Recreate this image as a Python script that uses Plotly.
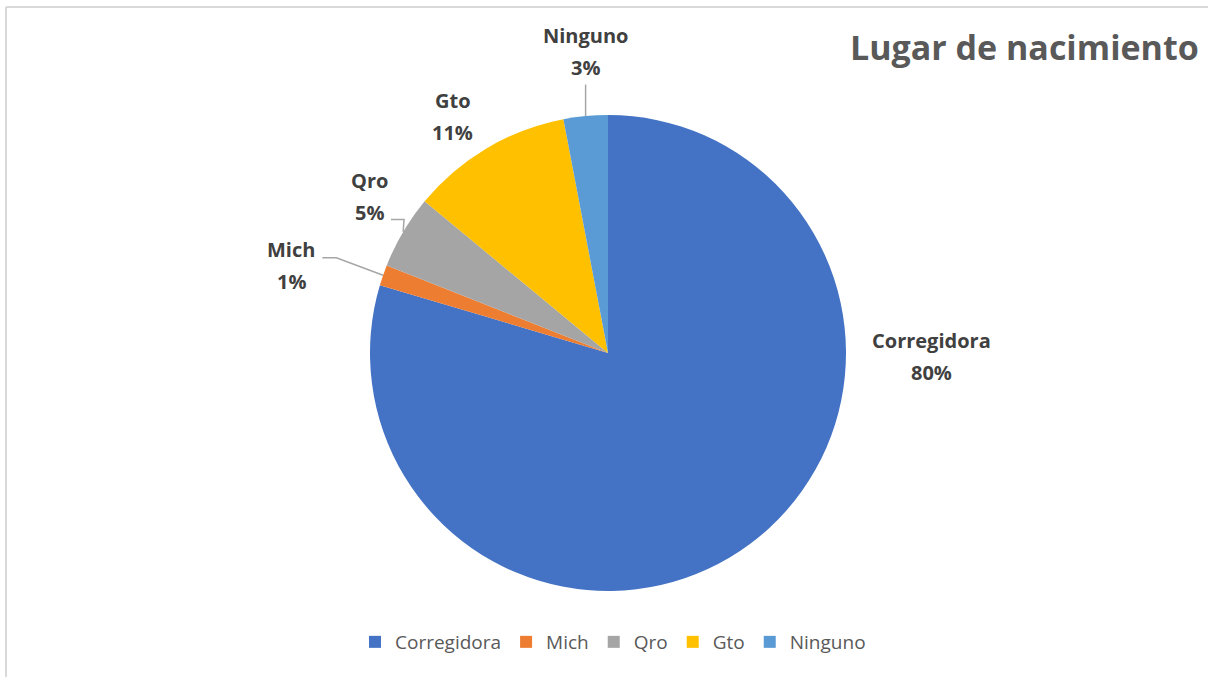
import math
import plotly.graph_objects as go

# ---- data ----
categories = ["Corregidora", "Mich", "Qro", "Gto", "Ninguno"]
values = [79.6, 1.4, 5.0, 11.0, 3.0]
colors = ["#4472C4", "#ED7D31", "#A5A5A5", "#FFC000", "#5B9BD5"]
title_text = "Lugar de nacimiento"

W, H = 1208, 677
CX, CY, R = 608, 353, 238  # pie centre / radius in pixels (layout)

def px(x):
    return x / W

def py(y):
    return 1 - y / H

fig = go.Figure()
fig.add_trace(go.Pie(
    labels=categories,
    values=values,
    sort=False,
    direction="clockwise",
    rotation=0,
    marker=dict(colors=colors, line=dict(width=0)),
    textinfo="none",
    hoverinfo="label+percent",
    domain=dict(x=[px(CX - R), px(CX + R)], y=[py(CY + R), py(CY - R)]),
    showlegend=True,
))

# label placement (layout): radius factor and angle (deg, clockwise from top)
label_rf = [1.36, 1.38, 1.20, 1.19, 1.27]
label_ang = [90.7, 285.4, 303.2, 326.8, 355.8]
LINE_GAP = 16

total = sum(values)
cum = 0.0
annotations = []
shapes = []
lab_font = dict(family="Open Sans", size=20, color="#404040", weight="bold")
for i, (cat, v) in enumerate(zip(categories, values)):
    mid = (cum + v / 2) / total * 360.0
    cum += v
    a = math.radians(label_ang[i])
    lx = CX + R * label_rf[i] * math.sin(a)
    ly = CY - R * label_rf[i] * math.cos(a)
    pct = round(v / total * 100)
    for txt, dy in ((cat, -LINE_GAP), (f"{pct}%", LINE_GAP)):
        annotations.append(dict(
            x=px(lx), y=py(ly + dy), xref="paper", yref="paper",
            xanchor="center", yanchor="middle",
            text=txt, showarrow=False, font=lab_font,
        ))
    am = math.radians(mid)
    ex = CX + R * math.sin(am)
    ey = CY - R * math.cos(am)
    line_style = dict(color="#A6A6A6", width=1.5)
    if i == 4:
        shapes.append(dict(type="line", xref="paper", yref="paper",
                           x0=px(ex), y0=py(ly + 33), x1=px(ex), y1=py(ey),
                           line=line_style))
    elif i == 1:
        sx, sy = lx + 31, ly - 8
        shapes.append(dict(type="path", xref="paper", yref="paper",
                           path=f"M {px(sx)},{py(sy)} L {px(sx + 14)},{py(sy)} L {px(ex)},{py(ey)}",
                           line=line_style))
    elif i == 2:
        sx, sy = lx + 22, ly + 23
        shapes.append(dict(type="path", xref="paper", yref="paper",
                           path=f"M {px(sx)},{py(sy)} L {px(sx + 13)},{py(sy)} L {px(ex)},{py(ey)}",
                           line=line_style))

annotations.append(dict(
    x=px(1201), y=py(47), xref="paper", yref="paper", xanchor="right", yanchor="middle",
    text=title_text, showarrow=False,
    font=dict(family="Open Sans", size=34, color="#595959", weight="bold"),
))

# chart frame (top and left edges visible)
frame = dict(color="#D9D9D9", width=2)
shapes.append(dict(type="line", xref="paper", yref="paper", x0=px(6), y0=py(7), x1=1, y1=py(7), line=frame))
shapes.append(dict(type="line", xref="paper", yref="paper", x0=px(6), y0=py(7), x1=px(6), y1=0, line=frame))

fig.update_layout(
    width=W, height=H,
    margin=dict(l=0, r=0, t=0, b=0),
    paper_bgcolor="white", plot_bgcolor="white",
    annotations=annotations,
    shapes=shapes,
    legend=dict(orientation="h", x=px(613), xanchor="center", y=py(642), yanchor="middle",
                font=dict(family="Open Sans", size=19, color="#595959"),
                itemwidth=30, traceorder="normal"),
)

fig.write_html("out.html", config={"displayModeBar": False},
               post_script="document.body.style.margin='0';document.body.style.overflow='hidden';")
